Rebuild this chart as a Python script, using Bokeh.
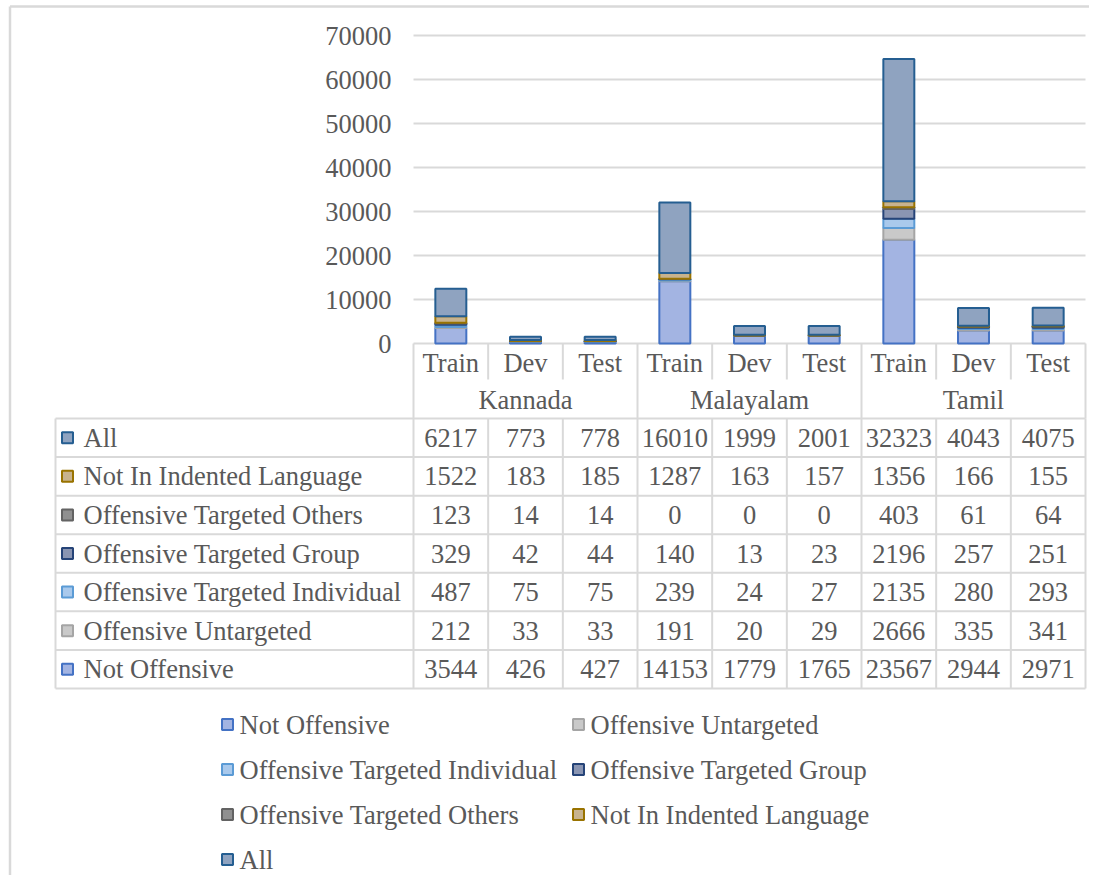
from bokeh.plotting import figure
from bokeh.models import Range1d, ColumnDataSource
from bokeh.core.properties import value
from bokeh.embed import file_html
from bokeh.resources import INLINE

# ---------------- data ----------------
languages = ["Kannada", "Malayalam", "Tamil"]
splits = ["Train", "Dev", "Test"]
series_names = ["Not Offensive", "Offensive Untargeted", "Offensive Targeted Individual",
                "Offensive Targeted Group", "Offensive Targeted Others",
                "Not In Indented Language", "All"]

not_offensive = [3544, 426, 427, 14153, 1779, 1765, 23567, 2944, 2971]
offensive_untargeted = [212, 33, 33, 191, 20, 29, 2666, 335, 341]
offensive_targeted_individual = [487, 75, 75, 239, 24, 27, 2135, 280, 293]
offensive_targeted_group = [329, 42, 44, 140, 13, 23, 2196, 257, 251]
offensive_targeted_others = [123, 14, 14, 0, 0, 0, 403, 61, 64]
not_in_indented_language = [1522, 183, 185, 1287, 163, 157, 1356, 166, 155]
all_counts = [6217, 773, 778, 16010, 1999, 2001, 32323, 4043, 4075]

y_ticks = [0, 10000, 20000, 30000, 40000, 50000, 60000, 70000]

series_values = [not_offensive, offensive_untargeted, offensive_targeted_individual,
                 offensive_targeted_group, offensive_targeted_others,
                 not_in_indented_language, all_counts]

# ---------------- styles ----------------
fills = ["#a3b4e2", "#c9c9c9", "#a9c9ec", "#8a95b2", "#909090", "#c8b38e", "#8fa3c0"]
lines = ["#4472c4", "#a5a5a5", "#5b9bd5", "#264478", "#636363", "#997300", "#255e91"]
TXT = "#595959"
GRID = "#d9d9d9"
FS = "26.5px"


def tstyle():
    return dict(text_color=TXT, text_font=value("Liberation Serif"),
                text_font_size=value(FS))


# ---------------- layout (page pixels -> data units) ----------------
FIG_W, FIG_H, OFF = 1089, 875, 0
X0, X9 = 413.0, 1085.0
CAT_W = (X9 - X0) / 9
Y0, YT = 343.0, 35.0
K = (Y0 - YT) / y_ticks[-1]


def dx(px):
    return (px - X0) / CAT_W


def dy(py):
    return (Y0 - py) / K


p = figure(width=FIG_W, height=FIG_H,
           x_range=Range1d(dx(OFF), dx(OFF + FIG_W)),
           y_range=Range1d(dy(OFF + FIG_H), dy(OFF)),
           x_axis_type=None, y_axis_type=None, min_border=0,
           toolbar_location=None, output_backend="svg",
           outline_line_color=None, background_fill_color="white",
           border_fill_color="white")
p.xgrid.visible = False
p.ygrid.visible = False

# outer chart border (left/top)
p.segment(x0=[dx(9.5), dx(9.5)], y0=[dy(6), dy(6)], x1=[dx(9.5), dx(1105)], y1=[dy(900), dy(6)],
          line_color=GRID, line_width=2.5)

# gridlines
ncat = len(languages) * len(splits)
p.segment(x0=[0] * len(y_ticks), x1=[ncat] * len(y_ticks), y0=y_ticks, y1=y_ticks,
          line_color=GRID, line_width=2)

# y tick labels
p.text(x=[dx(391)] * len(y_ticks), y=y_ticks, text=[str(t) for t in y_ticks],
       text_align="right", text_baseline="middle", **tstyle())

# stacked bars
keys = ["s%d" % i for i in range(len(series_names))]
src = {"x": [i + 0.5 for i in range(ncat)]}
for k, v in zip(keys, series_values):
    src[k] = v
p.vbar_stack(keys, x="x", width=0.415, fill_color=fills, line_color=lines,
             line_width=2, source=ColumnDataSource(src))

# ---- category header ----
hdr_top, hdr_mid, hdr_bot = Y0, 379.0, 418.0
group_edges = [0, 3, 6, 9]
inner_edges = [1, 2, 4, 5, 7, 8]
p.segment(x0=group_edges, x1=group_edges, y0=[dy(hdr_top)] * 4, y1=[dy(hdr_bot)] * 4,
          line_color=GRID, line_width=2)
p.segment(x0=inner_edges, x1=inner_edges, y0=[dy(hdr_top)] * 6, y1=[dy(hdr_mid)] * 6,
          line_color=GRID, line_width=2)
p.text(x=[i + 0.5 for i in range(ncat)], y=[dy(362)] * ncat,
       text=[splits[i % 3] for i in range(ncat)],
       text_align="center", text_baseline="middle", **tstyle())
p.text(x=[1.5, 4.5, 7.5], y=[dy(399)] * 3, text=languages,
       text_align="center", text_baseline="middle", **tstyle())

# ---- data table ----
T_LEFT = 55.0
ROW_H = (688.0 - 418.0) / 7
row_order = list(range(len(series_names)))[::-1]
row_edges = [418.0 + i * ROW_H for i in range(8)]
p.segment(x0=[dx(T_LEFT)] * 8, x1=[ncat] * 8, y0=[dy(r) for r in row_edges],
          y1=[dy(r) for r in row_edges], line_color=GRID, line_width=2)
vx = [dx(T_LEFT)] + list(range(ncat + 1))
p.segment(x0=vx, x1=vx, y0=[dy(418)] * len(vx), y1=[dy(688)] * len(vx),
          line_color=GRID, line_width=2)

for r, si in enumerate(row_order):
    yc = dy(418.0 + (r + 0.5) * ROW_H)
    p.scatter(x=[dx(67)], y=[yc], marker="square", size=11, fill_color=fills[si],
              line_color=lines[si], line_width=2)
    p.text(x=[dx(83)], y=[yc], text=[series_names[si]], text_align="left",
           text_baseline="middle", **tstyle())
    p.text(x=[i + 0.5 for i in range(ncat)], y=[yc] * ncat,
           text=[str(v) for v in series_values[si]], text_align="center",
           text_baseline="middle", **tstyle())

# ---- legend ----
leg_cols = [(227.0, 239.0), (578.0, 590.0)]
leg_rows = [724.0, 769.0, 814.0, 859.0]
for i, name in enumerate(series_names):
    mx, tx = leg_cols[i % 2]
    yc = dy(leg_rows[i // 2])
    p.scatter(x=[dx(mx)], y=[yc], marker="square", size=11, fill_color=fills[i],
              line_color=lines[i], line_width=2)
    p.text(x=[dx(tx)], y=[yc], text=[name], text_align="left", text_baseline="middle",
           **tstyle())

open("out.html", "w").write(file_html(p, INLINE))
